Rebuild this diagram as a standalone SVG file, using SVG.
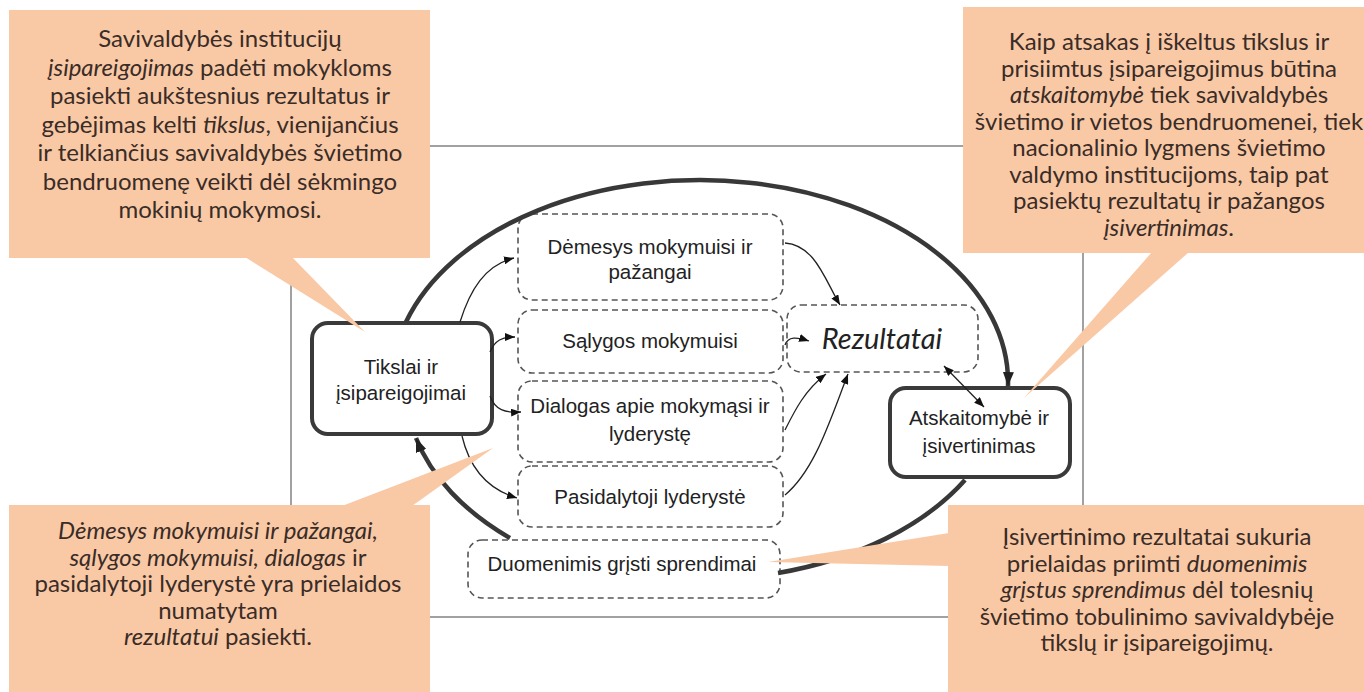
<svg xmlns="http://www.w3.org/2000/svg" width="1364" height="692" viewBox="0 0 1364 692">
  <defs>
    <style>
      .frame{fill:none;stroke:#8a8a8a;stroke-width:1.6}
      .solid{fill:#fff;stroke:#3a3a3a;stroke-width:4}
      .dash{fill:#fff;stroke:#555;stroke-width:1.6;stroke-dasharray:6 4}
      .loop{fill:none;stroke:#383838;stroke-width:4.5}
      .thin{fill:none;stroke:#222;stroke-width:1.3}
      .dt{font-family:"Liberation Sans",Arial,sans-serif;font-size:20.5px;fill:#222;text-anchor:middle}
      .ct{font-family:Lato,"Noto Sans",sans-serif;font-size:24px;fill:#3a2c26;text-anchor:middle}
      .co{fill:#F9C9A6}
      .it{font-style:italic}
    </style>
    <marker id="ah" viewBox="0 0 10 8" refX="10" refY="4" markerWidth="10" markerHeight="8" markerUnits="userSpaceOnUse" orient="auto-start-reverse">
      <path d="M0,0 L10,4 L0,8 z" fill="#111"/>
    </marker>
    <marker id="ahT" viewBox="0 0 14 11" refX="14" refY="5.5" markerWidth="14" markerHeight="11" markerUnits="userSpaceOnUse" orient="auto">
      <path d="M0,0 L14,5.5 L0,11 z" fill="#222"/>
    </marker>
  </defs>
  <rect width="1364" height="692" fill="#fff"/>
  <rect class="frame" x="291" y="146" width="792" height="471"/>

  <g id="tikslai">
    <rect class="solid" x="312" y="323" width="180" height="111" rx="16"/>
    <text class="dt" x="401" y="374">Tikslai ir</text>
    <text class="dt" x="401" y="400">įsipareigojimai</text>
  </g>
  <g id="demesys">
    <rect class="dash" x="518" y="214" width="265" height="86" rx="14"/>
    <text class="dt" x="650" y="254">Dėmesys mokymuisi ir</text>
    <text class="dt" x="650" y="279">pažangai</text>
  </g>
  <g id="salygos">
    <rect class="dash" x="518" y="310" width="265" height="63" rx="14"/>
    <text class="dt" x="650" y="348">Sąlygos mokymuisi</text>
  </g>
  <g id="dialogas">
    <rect class="dash" x="518" y="381" width="265" height="81" rx="14"/>
    <text class="dt" x="650" y="413">Dialogas apie mokymąsi ir</text>
    <text class="dt" x="650" y="441">lyderystę</text>
  </g>
  <g id="pasidalytoji">
    <rect class="dash" x="518" y="466" width="265" height="61" rx="14"/>
    <text class="dt" x="650" y="504">Pasidalytoji lyderystė</text>
  </g>
  <g id="duomenimis">
    <rect class="dash" x="468" y="540" width="312" height="58" rx="14"/>
    <text class="dt" x="622" y="571">Duomenimis grįsti sprendimai</text>
  </g>
  <g id="rezultatai">
    <rect class="dash" x="787" y="305" width="191" height="67" rx="14"/>
    <text class="ct it" x="882" y="349" style="font-size:29px;fill:#222">Rezultatai</text>
  </g>
  <g id="atskaitomybe">
    <rect class="solid" x="890" y="388" width="180" height="89" rx="16"/>
    <text class="dt" x="979" y="425">Atskaitomybė ir</text>
    <text class="dt" x="979" y="453">įsivertinimas</text>
  </g>

  <g id="connectors">
    <path class="loop" d="M 406 322 A 308 202 0 0 1 1008 386" marker-end="url(#ahT)"/>
    <path class="loop" d="M 965 480 A 307 200 0 0 1 778 573"/>
    <path class="loop" d="M 510 538 A 307 200 0 0 1 416 438" marker-end="url(#ahT)"/>
    <path class="thin" d="M 460 322 C 470 290, 485 265, 514 258" marker-end="url(#ah)"/>
    <path class="thin" d="M 490 352 C 495 340, 502 337, 515 337" marker-end="url(#ah)"/>
    <path class="thin" d="M 490 396 C 495 410, 505 413, 521 412" marker-end="url(#ah)"/>
    <path class="thin" d="M 462 436 C 470 470, 490 490, 517 498" marker-end="url(#ah)"/>
    <path class="thin" d="M 785 243 C 815 245, 825 280, 840 305" marker-end="url(#ah)"/>
    <path class="thin" d="M 785 345 C 788 336, 797 337, 809 341" marker-end="url(#ah)"/>
    <path class="thin" d="M 785 430 C 795 410, 805 390, 826 374" marker-end="url(#ah)"/>
    <path class="thin" d="M 785 495 C 815 470, 830 420, 848 374" marker-end="url(#ah)"/>
    <path class="thin" d="M 944 366 L 984 407" marker-start="url(#ah)" marker-end="url(#ah)"/>
  </g>

  <g id="callout-top-left">
    <rect class="co" x="9" y="10" width="421" height="248"/>
    <polygon class="co" points="245,257 292,257 365,332"/>
    <text class="ct" x="220" y="47">Savivaldybės institucijų</text>
    <text class="ct" x="220" y="75.5"><tspan class="it">įsipareigojimas</tspan> padėti mokykloms</text>
    <text class="ct" x="220" y="104">pasiekti aukštesnius rezultatus ir</text>
    <text class="ct" x="220" y="132.5">gebėjimas kelti <tspan class="it">tikslus</tspan>, vienijančius</text>
    <text class="ct" x="220" y="161">ir telkiančius savivaldybės švietimo</text>
    <text class="ct" x="220" y="189.5">bendruomenę veikti dėl sėkmingo</text>
    <text class="ct" x="220" y="218">mokinių mokymosi.</text>
  </g>
  <g id="callout-top-right">
    <rect class="co" x="963" y="7" width="401" height="246"/>
    <polygon class="co" points="1152,252 1189,252 1024,398"/>
    <text class="ct" x="1169" y="50">Kaip atsakas į iškeltus tikslus ir</text>
    <text class="ct" x="1169" y="76.5">prisiimtus įsipareigojimus būtina</text>
    <text class="ct" x="1169" y="103"><tspan class="it">atskaitomybė</tspan> tiek savivaldybės</text>
    <text class="ct" x="1169" y="129.5">švietimo ir vietos bendruomenei, tiek</text>
    <text class="ct" x="1169" y="156">nacionalinio lygmens švietimo</text>
    <text class="ct" x="1169" y="182.5">valdymo institucijoms, taip pat</text>
    <text class="ct" x="1169" y="209">pasiektų rezultatų ir pažangos</text>
    <text class="ct" x="1169" y="235.5"><tspan class="it">įsivertinimas</tspan>.</text>
  </g>
  <g id="callout-bottom-left">
    <rect class="co" x="9" y="505" width="421" height="187"/>
    <polygon class="co" points="342,506 412,506 493,448"/>
    <text class="ct" x="218" y="539"><tspan class="it">Dėmesys mokymuisi ir pažangai,</tspan></text>
    <text class="ct" x="218" y="565.5"><tspan class="it">sąlygos mokymuisi, dialogas</tspan> ir</text>
    <text class="ct" x="218" y="592">pasidalytoji lyderystė yra prielaidos</text>
    <text class="ct" x="218" y="618.5">numatytam</text>
    <text class="ct" x="218" y="645"><tspan class="it">rezultatui</tspan> pasiekti.</text>
  </g>
  <g id="callout-bottom-right">
    <rect class="co" x="948" y="505" width="416" height="187"/>
    <polygon class="co" points="949,533 949,566 768,562"/>
    <text class="ct" x="1157" y="545">Įsivertinimo rezultatai sukuria</text>
    <text class="ct" x="1157" y="571.5">prielaidas priimti <tspan class="it">duomenimis</tspan></text>
    <text class="ct" x="1157" y="598"><tspan class="it">grįstus sprendimus</tspan> dėl tolesnių</text>
    <text class="ct" x="1157" y="624.5">švietimo tobulinimo savivaldybėje</text>
    <text class="ct" x="1157" y="651">tikslų ir įsipareigojimų.</text>
  </g>
</svg>
